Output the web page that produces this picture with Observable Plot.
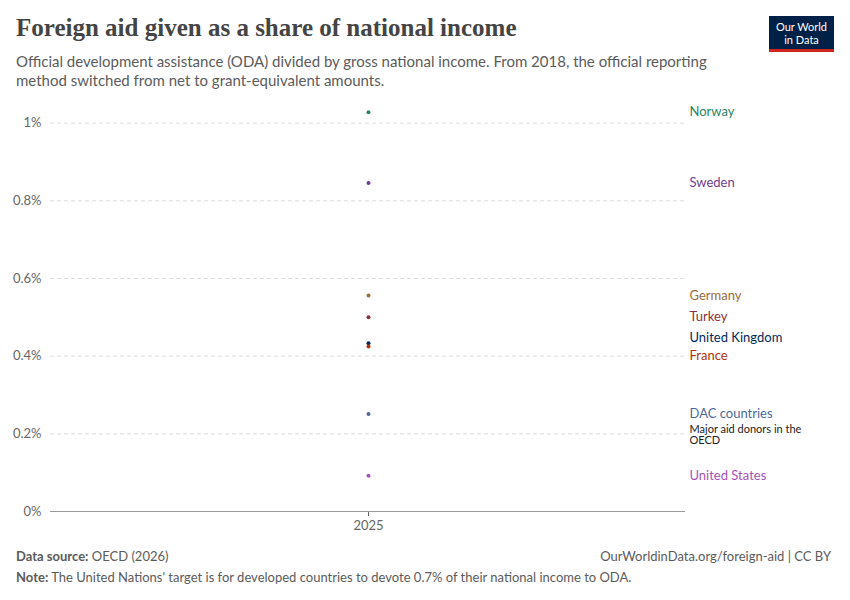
<!DOCTYPE html>
<html><head><meta charset="utf-8">
<script src="https://cdn.jsdelivr.net/npm/d3@7"></script>
<script src="https://cdn.jsdelivr.net/npm/@observablehq/plot@0.6"></script>
<style>
body{margin:0;background:#fff;font-family:Lato,sans-serif;}
#wrap{position:relative;width:850px;height:600px;}
h1{position:absolute;left:16px;top:14px;margin:0;font-family:"Liberation Serif",serif;font-weight:bold;font-size:25px;color:#444;}
#sub{position:absolute;left:16px;top:52px;width:720px;font-size:15px;color:#5b5b5b;line-height:19px;}
#logo{position:absolute;left:769px;top:16px;width:65px;height:36px;background:#002147;color:#fff;font-size:11px;line-height:13px;text-align:center;padding-top:4px;box-sizing:border-box;border-bottom:3px solid #ce261e;}
#chart{position:absolute;left:0;top:96px;}
.foot{position:absolute;font-size:13px;color:#5b5b5b;}
</style></head><body>
<div id="wrap">
<h1>Foreign aid given as a share of national income</h1>
<div id="sub">Official development assistance (ODA) divided by gross national income. From 2018, the official reporting method switched from net to grant-equivalent amounts.</div>
<div id="logo">Our World<br>in Data</div>
<div id="chart"></div>
<div class="foot" style="left:16px;top:548px"><b>Data source:</b> OECD (2026)</div>
<div class="foot" style="right:19px;top:548px">OurWorldinData.org/foreign-aid | CC BY</div>
<div class="foot" style="left:16px;top:569px"><b>Note:</b> The United Nations' target is for developed countries to devote 0.7% of their national income to ODA.</div>
</div>
<script>
const countries = ["Norway","Sweden","Germany","Turkey","United Kingdom","France","DAC countries","United States"];
const values = [1.028,0.846,0.556,0.50,0.433,0.425,0.251,0.092];
const colors = ["#2c8465","#6d3e91","#996d39","#883039","#00295b","#b13507","#4c6a9c","#a652ba"];
const labelShift = [0,0,0,0,-6,9,0,0];
const year = 2025;
const data = countries.map((c,i)=>({country:c,value:values[i],color:colors[i],shift:labelShift[i],year}));
const dac = [data[6]];
const chart = Plot.plot({
  width:850,height:450,marginLeft:50,marginRight:165,marginTop:15,marginBottom:35,
  style:{fontFamily:"Lato,sans-serif",fontSize:"13px",color:"#666"},
  x:{type:"point",domain:[year],label:null,tickSize:5,tickFormat:d=>String(d)},
  y:{domain:[0,1.03],label:null,ticks:[0,0.2,0.4,0.6,0.8,1],tickFormat:d=>d+"%",tickSize:0},
  marks:[
    Plot.gridY([0.2,0.4,0.6,0.8,1],{strokeDasharray:"4,3",stroke:"#ddd",strokeOpacity:1}),
    Plot.ruleY([0],{stroke:"#999"}),
    Plot.dot(data,{x:"year",y:"value",fill:"color",r:2}),
    ...data.map(d=>Plot.text([d],{y:"value",text:"country",fill:"color",frameAnchor:"right",textAnchor:"start",dx:4,dy:d.shift,fontSize:13})),
    Plot.text(dac,{y:"value",text:()=>"Major aid donors in the",frameAnchor:"right",textAnchor:"start",dx:4,dy:15,fill:"#222",fontSize:11}),
    Plot.text(dac,{y:"value",text:()=>"OECD",frameAnchor:"right",textAnchor:"start",dx:4,dy:26,fill:"#222",fontSize:11}),
  ]
});
document.getElementById("chart").appendChild(chart);
</script>
</body></html>
